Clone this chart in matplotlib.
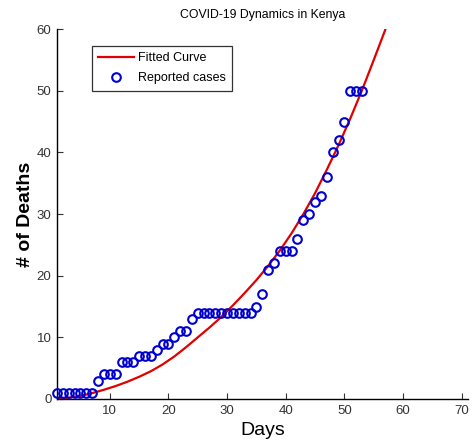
import matplotlib
matplotlib.use("Agg")
import matplotlib.pyplot as plt

plt.rcParams['font.family'] = ['Liberation Sans', 'DejaVu Sans']

# reported deaths per day
days = list(range(1, 54))
deaths = [1, 1, 1, 1, 1, 1, 1, 3, 4, 4,
          4, 6, 6, 6, 7, 7, 7, 8, 9, 9,
          10, 11, 11, 13, 14, 14, 14, 14, 14, 14,
          14, 14, 14, 14, 15, 17, 21, 22, 24, 24,
          24, 26, 29, 30, 32, 33, 36, 40, 42, 45,
          50, 50, 50]

# fitted curve
fit_days = [1, 3, 5, 7, 9, 11, 13, 15, 17, 19, 21, 23, 25, 27, 29,
            31, 33, 35, 37, 39, 41, 43, 45, 47, 49, 51, 53, 55, 57]
fit_vals = [0, 0.2, 0.5, 0.95, 1.5, 2.1, 2.8, 3.6, 4.5, 5.6, 6.9, 8.4, 10.0, 11.6, 13.3,
            15.2, 17.2, 19.3, 21.6, 24.1, 26.9, 30.0, 33.4, 37.2, 41.2, 45.5, 50.1, 55.0, 60.0]

xticks = [10, 20, 30, 40, 50, 60, 70]
yticks = [0, 10, 20, 30, 40, 50, 60]

fig = plt.figure(figsize=(4.73, 4.48), dpi=100)
ax = fig.add_axes([0.1205, 0.1094, 0.868, 0.8253])

ax.plot(fit_days, fit_vals, color='#e00000', lw=1.6, label='Fitted Curve', zorder=2)
ax.plot(days, deaths, 'o', mfc='none', mec='#0000d0', mew=1.5, ms=6.2,
        label='Reported cases', zorder=3, clip_on=False)

ax.set_xlim(1, 71)
ax.set_ylim(0, 60)
ax.set_xticks(xticks)
ax.set_yticks(yticks)
ax.tick_params(direction='in', length=4, labelsize=9.5, colors='#333333', pad=4)
for s in ['top', 'right']:
    ax.spines[s].set_visible(False)
for s in ['left', 'bottom']:
    ax.spines[s].set_linewidth(1.0)

ax.set_title('COVID-19 Dynamics in Kenya', fontsize=8.8, pad=8)
ax.set_xlabel('Days', fontsize=14, labelpad=4)
ax.set_ylabel('# of Deaths', fontsize=14, fontweight='bold', labelpad=2)

leg = ax.legend(loc='upper left', bbox_to_anchor=(0.085, 0.955), fontsize=9,
                frameon=True, fancybox=False, edgecolor='black', borderpad=0.5,
                handlelength=2.9, handletextpad=0.3, labelspacing=0.65,
                borderaxespad=0)
leg.get_frame().set_linewidth(0.9)

fig.savefig('out.png', dpi=100)
